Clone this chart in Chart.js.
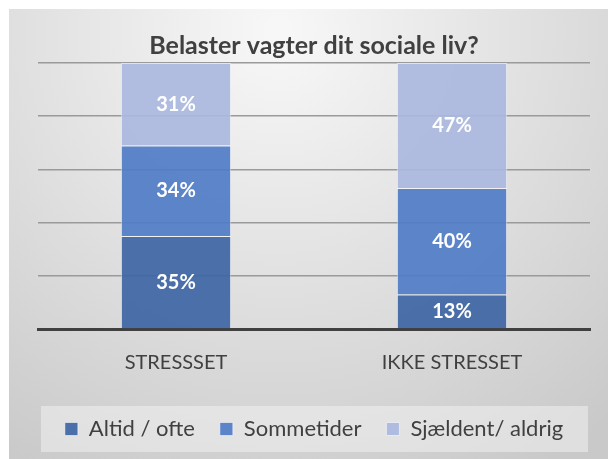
<!DOCTYPE html>
<html>
<head>
<meta charset="utf-8">
<script src="https://cdn.jsdelivr.net/npm/chart.js@4.4.1/dist/chart.umd.min.js"></script>
<style>
  html, body { margin: 0; padding: 0; background: #ffffff; }
  #wrap { position: absolute; left: 9px; top: 9px; width: 599px; height: 450px; }
</style>
</head>
<body>
<div id="wrap"><canvas id="c" width="599" height="450"></canvas></div>
<script>
const categories = ["STRESSSET", "IKKE STRESSET"];
const seriesNames = ["Altid / ofte", "Sommetider", "Sjældent/ aldrig"];
const altidOfte = [35, 13];
const sommetider = [34, 40];
const sjaeldentAldrig = [31, 47];
const seriesColors = ["rgba(62,101,163,0.92)", "rgba(80,124,199,0.92)", "rgba(170,185,222,0.92)"];
const TEXT = "#404040";
const FONT = "Lato, 'Open Sans', sans-serif";

const bgPlugin = {
  id: "bg",
  beforeDraw(chart) {
    const ctx = chart.ctx, w = chart.width, h = chart.height;
    ctx.save();
    const g = ctx.createRadialGradient(w * 0.45, h * 0.05, 10, w * 0.45, h * 0.05, w * 0.85);
    g.addColorStop(0, "#f7f7f7");
    g.addColorStop(1, "#c9c9c9");
    ctx.fillStyle = g;
    ctx.fillRect(0, 0, w, h);
    const lg = chart.legend;
    if (lg && lg.legendHitBoxes && lg.legendHitBoxes.length) {
      const hb = lg.legendHitBoxes[0];
      const cy = hb.top + hb.height / 2;
      const ca = chart.chartArea;
      ctx.fillStyle = "rgba(240,240,240,0.55)";
      ctx.fillRect(ca.left + 3, cy - 23, ca.right - ca.left - 5, 46);
    }
    ctx.restore();
  }
};

const labelPlugin = {
  id: "vlabels",
  afterDatasetsDraw(chart) {
    const ctx = chart.ctx;
    ctx.save();
    ctx.fillStyle = "#ffffff";
    ctx.font = "bold 20px " + FONT;
    ctx.textAlign = "center";
    ctx.textBaseline = "middle";
    chart.data.datasets.forEach((ds, di) => {
      const meta = chart.getDatasetMeta(di);
      meta.data.forEach((bar, i) => {
        const v = ds.data[i];
        const y = (bar.y + bar.base) / 2;
        ctx.fillText(v + "%", bar.x, y);
      });
    });
    ctx.restore();
  }
};

new Chart(document.getElementById("c"), {
  type: "bar",
  data: {
    labels: categories,
    datasets: [
      { label: seriesNames[0], data: altidOfte, backgroundColor: seriesColors[0] },
      { label: seriesNames[1], data: sommetider, backgroundColor: seriesColors[1] },
      { label: seriesNames[2], data: sjaeldentAldrig, backgroundColor: seriesColors[2] }
    ].map(d => Object.assign(d, {
      borderColor: "rgba(255,255,255,0.55)",
      borderWidth: 1,
      barPercentage: 0.4,
      categoryPercentage: 1.0
    }))
  },
  options: {
    responsive: false,
    animation: false,
    devicePixelRatio: 1,
    layout: { padding: { left: 29, right: 18, top: 0, bottom: 9 } },
    plugins: {
      title: {
        display: true,
        text: "Belaster vagter dit sociale liv?",
        color: TEXT,
        font: { family: FONT, size: 25, weight: "bold" },
        padding: { top: 22, bottom: 2 }
      },
      legend: {
        position: "bottom",
        title: { display: true, text: " ", font: { size: 1, lineHeight: 1 }, padding: { top: 0, bottom: 3 } },
        labels: {
          color: TEXT,
          font: { family: FONT, size: 22 },
          boxWidth: 13,
          boxHeight: 13,
          padding: 25
        }
      },
      tooltip: { enabled: false }
    },
    scales: {
      x: {
        stacked: true,
        grid: { display: false },
        border: { display: true, color: "#404040", width: 3 },
        ticks: { color: TEXT, font: { family: FONT, size: 20 }, padding: 14 }
      },
      y: {
        stacked: true,
        min: 0,
        max: 100,
        ticks: { display: false, stepSize: 20 },
        grid: { color: "#9a9a9a", lineWidth: 1.5, drawTicks: false },
        border: { display: false }
      }
    }
  },
  plugins: [bgPlugin, labelPlugin]
});
</script>
</body>
</html>
